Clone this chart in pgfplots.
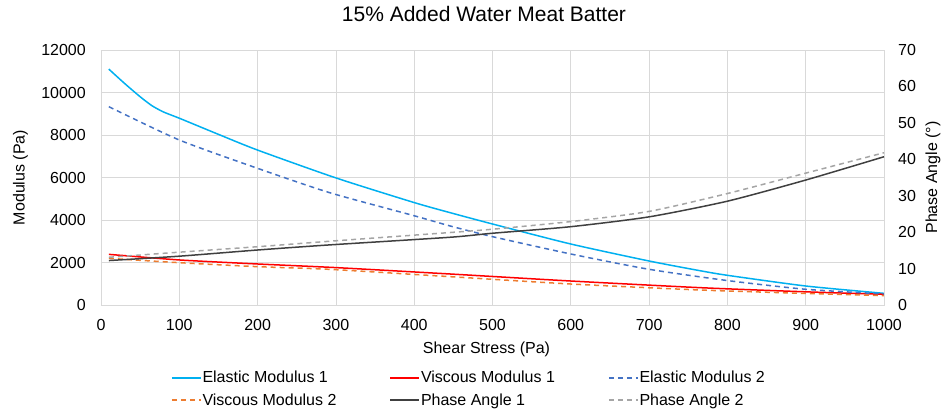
\documentclass[border=0pt]{standalone}
\usepackage{pgfplots}
\pgfplotsset{compat=1.18}
\usepackage{fontspec}
\setmainfont{Liberation Sans}
\definecolor{cE1}{HTML}{00B0F0}
\definecolor{cV1}{HTML}{FF0000}
\definecolor{cE2}{HTML}{4472C4}
\definecolor{cV2}{HTML}{ED7D31}
\definecolor{cP1}{HTML}{404040}
\definecolor{cP2}{HTML}{A5A5A5}
\definecolor{gridgray}{HTML}{D9D9D9}
\newcommand{\lent}[1]{\makebox[186pt][l]{\rule[-1.5pt]{0pt}{13.5pt}#1}}
\begin{document}
\fontsize{16}{19.2}\selectfont
\begin{tikzpicture}
\useasboundingbox (-101pt,-110pt) rectangle (843pt,305pt);
\pgfplotsset{
  common/.style={
    width=783pt, height=255pt, scale only axis,
    at={(0pt,0pt)}, anchor=south west,
    xmin=0, xmax=1000,
    tick style={draw=none},
    /pgf/number format/assume math mode=true,
    /pgf/number format/1000 sep={},
    scaled ticks=false,
    axis line style={gridgray, line width=0.8pt},
    legend image code/.code={\draw[##1] (0pt,0pt) -- (29pt,0pt);},
  },
  ln/.style={line width=1.5pt, smooth, tension=0.4, no markers},
  dsh/.style={dash pattern=on 5pt off 4pt},
}
\begin{axis}[common,
  ymin=0, ymax=12000,
  xtick={0,100,...,1000}, ytick={0,2000,...,12000},
  grid=major, grid style={gridgray, line width=0.8pt},
  xticklabel style={inner sep=0pt, anchor=north, yshift=-14pt},
  yticklabel style={inner sep=0pt, anchor=east, xshift=-15pt},
  title={15\% Added Water Meat Batter},
  title style={font=\fontsize{21}{25}\selectfont, at={(axis description cs:0.4891,1)}, anchor=base, yshift=22pt, inner sep=0pt},
  xlabel={Shear Stress (Pa)},
  xlabel style={at={(axis description cs:0.4923,0)}, anchor=north, yshift=-37pt, inner sep=0pt},
  ylabel={Modulus (Pa)},
  ylabel style={at={(axis description cs:-0.1028,0.5)}, anchor=center, inner sep=0pt},
  legend columns=3,
  legend cell align=left,
  legend style={draw=none, fill=none, at={(axis description cs:0.0894,-0.3294)}, anchor=west,
    inner sep=0pt, outer sep=0pt, nodes={inner sep=1pt}, row sep=6pt,
    /tikz/every even column/.append style={column sep=0pt}},
]
\addplot[ln, cE1] coordinates {(10,11100) (30,10430) (50,9800) (65,9380) (80,9080) (100,8790) (150,8030) (200,7290) (300,5980) (400,4820) (446,4344) (500,3812) (600,2870) (700,2070) (765,1614) (800,1397) (900,894) (1000,549)};
\addlegendentry{\lent{Elastic Modulus 1}}
\addplot[ln, cV1] coordinates {(10,2384) (100,2120) (200,1930) (300,1760) (446,1459) (600,1129) (765,816) (900,620) (1000,502)};
\addlegendentry{\lent{Viscous Modulus 1}}
\addplot[ln, cE2, dsh] coordinates {(10,9333) (100,7765) (200,6431) (292,5286) (400,4200) (446,3718) (500,3216) (600,2400) (700,1680) (800,1150) (900,740) (1000,520)};
\addlegendentry{\lent{Elastic Modulus 2}}
\addplot[ln, cV2, dsh] coordinates {(10,2196) (100,1991) (200,1804) (292,1678) (446,1333) (600,988) (765,706) (900,545) (1000,439)};
\addlegendentry{\lent{Viscous Modulus 2}}
\addlegendimage{line width=1.5pt, color=cP1}
\addlegendentry{\lent{Phase Angle 1}}
\addlegendimage{line width=1.5pt, color=cP2, dash pattern=on 5pt off 4pt}
\addlegendentry{\lent{Phase Angle 2}}
\end{axis}
\begin{axis}[common,
  axis y line*=right, axis x line=none,
  ymin=0, ymax=70, ytick={0,10,...,70},
  yticklabel style={inner sep=0pt, anchor=west, xshift=14pt},
  ylabel={Phase Angle (°)},
  ylabel style={at={(axis description cs:1.0626,0.5)}, anchor=center, inner sep=0pt, rotate=0},
]
\addplot[ln, cP1] coordinates {(10,12.2) (100,13.4) (200,15.1) (292,16.5) (446,18.6) (500,19.7) (600,21.5) (700,24.2) (800,28.5) (900,34.3) (1000,40.7)};
\addplot[ln, cP2, dsh] coordinates {(10,13.1) (100,14.5) (200,16.0) (292,17.5) (446,19.9) (500,20.8) (600,22.9) (700,25.7) (800,30.6) (900,36.2) (1000,41.8)};
\end{axis}
\end{tikzpicture}
\end{document}
